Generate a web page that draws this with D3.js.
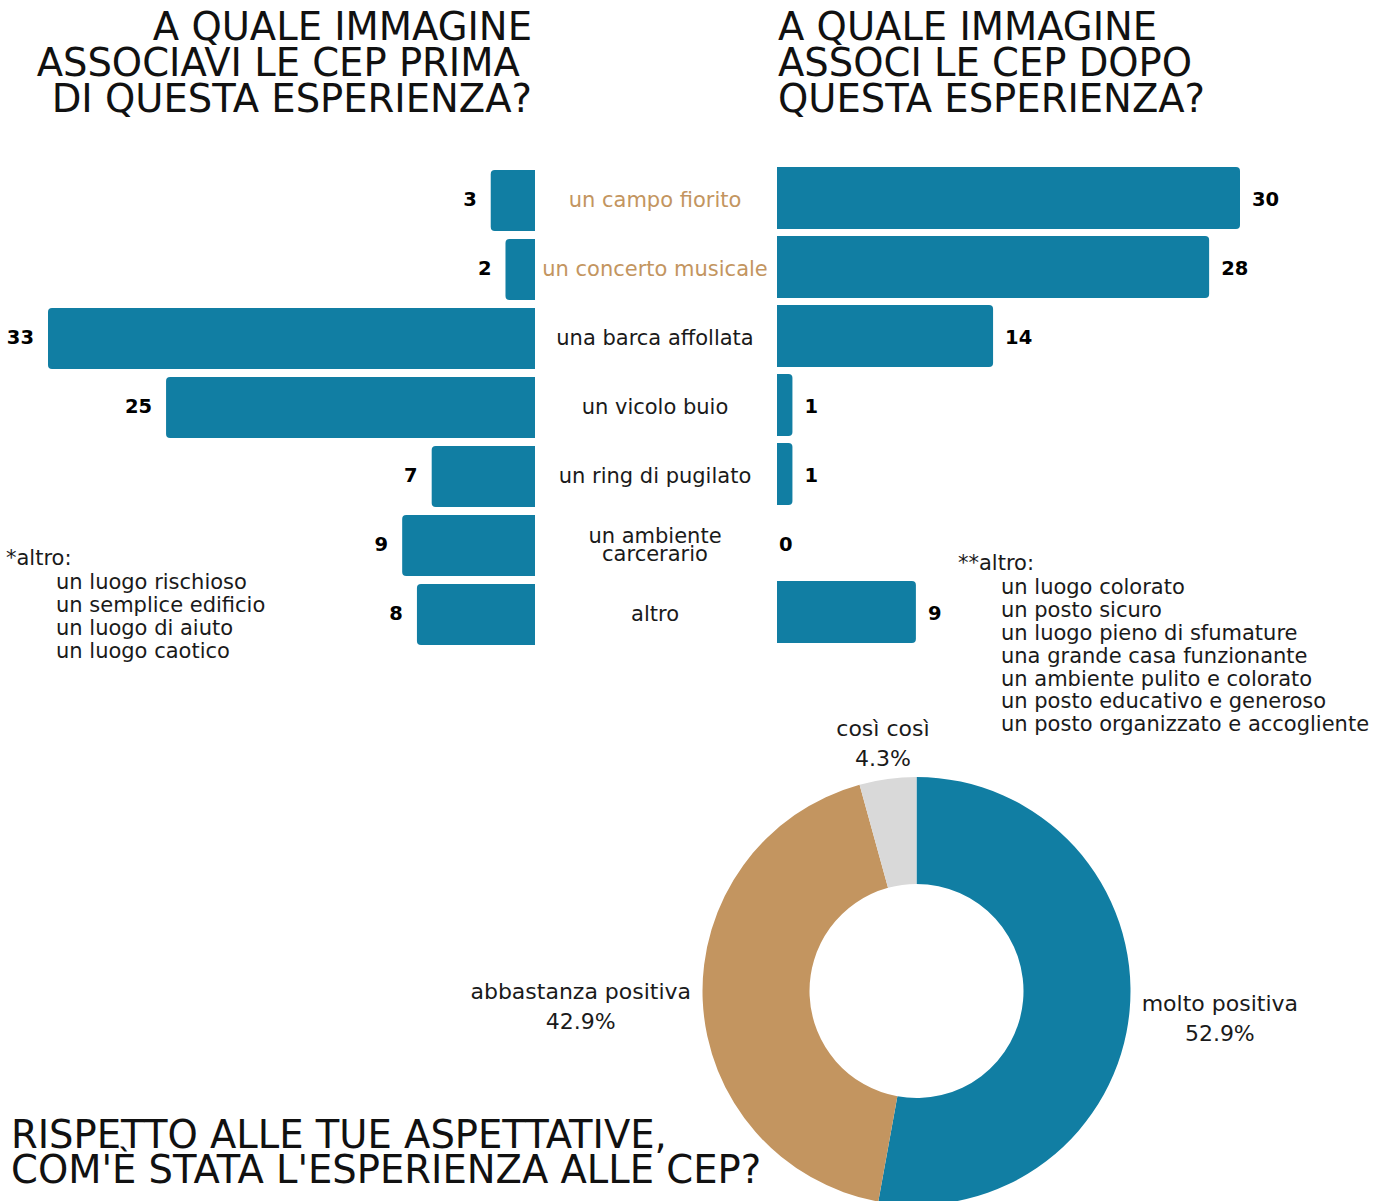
<!DOCTYPE html>
<html lang="it">
<head>
<meta charset="utf-8">
<script src="https://cdn.jsdelivr.net/npm/d3@7"></script>
<style>
  html, body { margin: 0; padding: 0; background: #fff; }
  svg { display: block; font-family: "DejaVu Sans", "Noto Sans", sans-serif; }
</style>
</head>
<body>
<svg id="chart" width="1374" height="1201"></svg>
<script>
// ---- data ----
const categories = [
  "un campo fiorito",
  "un concerto musicale",
  "una barca affollata",
  "un vicolo buio",
  "un ring di pugilato",
  "un ambiente carcerario",
  "altro"
];
const highlightCategories = ["un campo fiorito", "un concerto musicale"];
const beforeValues = [3, 2, 33, 25, 7, 9, 8];
const afterValues = [30, 28, 14, 1, 1, 0, 9];

const beforeTitle = ["A QUALE IMMAGINE", "ASSOCIAVI LE CEP PRIMA ", "DI QUESTA ESPERIENZA?"];
const afterTitle = ["A QUALE IMMAGINE", "ASSOCI LE CEP DOPO", "QUESTA ESPERIENZA?"];
const beforeOther = ["un luogo rischioso", "un semplice edificio", "un luogo di aiuto", "un luogo caotico"];
const afterOther = [
  "un luogo colorato",
  "un posto sicuro",
  "un luogo pieno di sfumature",
  "una grande casa funzionante",
  "un ambiente pulito e colorato",
  "un posto educativo e generoso",
  "un posto organizzato e accogliente"
];

const ratingLabels = ["molto positiva", "abbastanza positiva", "così così"];
const ratingCounts = [37, 30, 3];
const ratingTitle = ["RISPETTO ALLE TUE ASPETTATIVE,", "COM'È STATA L'ESPERIENZA ALLE CEP?"];

// ---- style ----
const BLUE = "#117ea3";
const TAN = "#c39560";
const GREY = "#d9d9d9";
const INK = "#1a1a1a";

const svg = d3.select("#chart");

// ---- titles ----
function titleBlock(lines, x, anchor) {
  const t = svg.append("text")
    .attr("x", x).attr("y", 40)
    .attr("text-anchor", anchor)
    .attr("font-size", 38.5)
    .attr("fill", "#111")
    .attr("xml:space", "preserve");
  lines.forEach((l, i) => {
    t.append("tspan").attr("x", x).attr("y", 40 + i * 36).text(l);
  });
}
titleBlock(beforeTitle, 532, "end");
titleBlock(afterTitle, 778, "start");

// ---- butterfly bars ----
const midLeft = 535, midRight = 777;
const y = d3.scaleBand()
  .domain(categories)
  .range([166, 649])
  .paddingInner(0.116)
  .paddingOuter(0.058);

const xBefore = d3.scaleLinear().domain([0, d3.max(beforeValues)]).range([midLeft, 48]);
const xAfter = d3.scaleLinear().domain([0, d3.max(afterValues)]).range([midRight, 1240]);

// bar with the outer end rounded
function barPath(xa, xb, y0, h, r, roundLeft) {
  const w = xb - xa;
  r = Math.min(r, w / 2, h / 2);
  const p = d3.path();
  if (roundLeft) {
    p.moveTo(xb, y0);
    p.lineTo(xa + r, y0);
    p.arcTo(xa, y0, xa, y0 + r, r);
    p.lineTo(xa, y0 + h - r);
    p.arcTo(xa, y0 + h, xa + r, y0 + h, r);
    p.lineTo(xb, y0 + h);
  } else {
    p.moveTo(xa, y0);
    p.lineTo(xb - r, y0);
    p.arcTo(xb, y0, xb, y0 + r, r);
    p.lineTo(xb, y0 + h - r);
    p.arcTo(xb, y0 + h, xb - r, y0 + h, r);
    p.lineTo(xa, y0 + h);
  }
  p.closePath();
  return p.toString();
}

const rows = categories.map((c, i) => ({ c, before: beforeValues[i], after: afterValues[i] }));
const rowMid = c => y(c) + y.bandwidth() / 2;

const left = svg.append("g");
left.selectAll("path")
  .data(rows.filter(d => d.before > 0))
  .join("path")
  .attr("d", d => barPath(xBefore(d.before), midLeft, y(d.c), y.bandwidth(), 4, true))
  .attr("fill", BLUE);
left.selectAll("text")
  .data(rows)
  .join("text")
  .attr("x", d => xBefore(d.before) - 14)
  .attr("y", d => rowMid(d.c) - 1)
  .attr("dy", "0.35em")
  .attr("text-anchor", "end")
  .attr("font-size", 19.5)
  .attr("font-weight", "bold")
  .attr("fill", "#000")
  .text(d => d.before);

const right = svg.append("g");
right.selectAll("path")
  .data(rows.filter(d => d.after > 0))
  .join("path")
  .attr("d", d => barPath(midRight, xAfter(d.after), y(d.c) - 3, y.bandwidth() + 1, 4, false))
  .attr("fill", BLUE);
right.selectAll("text")
  .data(rows)
  .join("text")
  .attr("x", d => xAfter(d.after) + (d.after > 0 ? 12 : 2))
  .attr("y", d => rowMid(d.c) - 1)
  .attr("dy", "0.35em")
  .attr("text-anchor", "start")
  .attr("font-size", 19.5)
  .attr("font-weight", "bold")
  .attr("fill", "#000")
  .text(d => d.after);

// category names in the gap between the two sides
const labelX = (midLeft + midRight) / 2 - 1;
const labelMax = midRight - midLeft - 6;
const catG = svg.append("g")
  .attr("font-size", 21)
  .attr("text-anchor", "middle");
categories.forEach(c => {
  const t = catG.append("text")
    .attr("fill", highlightCategories.includes(c) ? TAN : INK);
  const cy = rowMid(c) - 0.5;
  // wrap onto two lines when the name does not fit the gap
  const probe = t.append("tspan").text(c);
  const tooWide = probe.node().getComputedTextLength() > labelMax;
  probe.remove();
  let lines = [c];
  if (tooWide) {
    const words = c.split(" ");
    const last = words.pop();
    lines = [words.join(" "), last];
  }
  const lh = 18;
  lines.forEach((l, i) => {
    t.append("tspan")
      .attr("x", labelX)
      .attr("y", cy + (i - (lines.length - 1) / 2) * lh)
      .attr("dy", "0.35em")
      .text(l);
  });
});

// "altro" breakdowns
function otherList(head, items, x, indent, y0, step) {
  const g = svg.append("g").attr("font-size", 21).attr("fill", INK);
  g.append("text").attr("x", x).attr("y", y0).attr("dy", "0.35em").text(head);
  g.selectAll("text.item")
    .data(items)
    .join("text")
    .attr("class", "item")
    .attr("x", x + indent)
    .attr("y", (d, i) => y0 + 24 + i * step)
    .attr("dy", "0.35em")
    .text(d => d);
}
otherList("*altro:", beforeOther, 6, 50, 558, 23);
otherList("**altro:", afterOther, 958, 43, 563, 22.8);

// ---- donut ----
const cx = 916.5, cy = 991, R = 214, r0 = 107;
const total = d3.sum(ratingCounts);
const ratings = ratingLabels.map((l, i) => ({ label: l, value: ratingCounts[i] }));
const pie = d3.pie().sort(null).value(d => d.value)(ratings);
const arc = d3.arc().innerRadius(r0).outerRadius(R);
const color = d3.scaleOrdinal().domain(ratingLabels).range([BLUE, TAN, GREY]);
const pct = d3.format(".1%");

const donut = svg.append("g").attr("transform", `translate(${cx},${cy})`);
donut.selectAll("path")
  .data(pie)
  .join("path")
  .attr("d", arc)
  .attr("fill", d => color(d.data.label));

// slice labels sit just outside the ring along each slice's mid angle
const lineGap = 30;
const labG = donut.append("g").attr("font-size", 22).attr("fill", INK).attr("text-anchor", "middle");
pie.forEach(p => {
  const t = labG.append("text");
  t.append("tspan").attr("x", 0).attr("y", -lineGap / 2).attr("dy", "0.35em").text(p.data.label);
  t.append("tspan").attr("x", 0).attr("y", lineGap / 2).attr("dy", "0.35em").text(pct(p.data.value / total));
  const bb = t.node().getBBox();
  const a = (p.startAngle + p.endAngle) / 2;
  const sx = Math.sin(a), sy = -Math.cos(a);
  const d = R + 11 + Math.abs(sx) * bb.width / 2 + Math.abs(sy) * (lineGap / 2 + 4);
  t.attr("transform", `translate(${sx * d},${sy * d})`);
});

// bottom title
const bt = svg.append("text").attr("font-size", 38.5).attr("fill", "#111");
ratingTitle.forEach((l, i) => {
  bt.append("tspan").attr("x", 11).attr("y", 1148 + i * 35).text(l);
});
</script>
</body>
</html>
